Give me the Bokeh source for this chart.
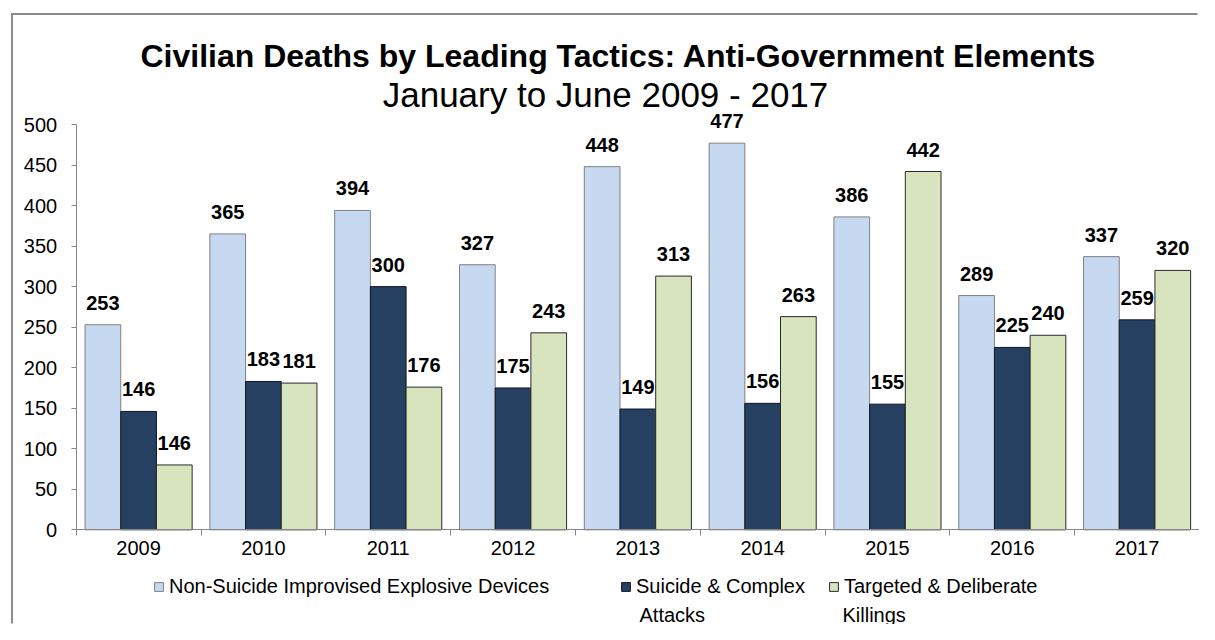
from bokeh.plotting import figure
from bokeh.models import (Range1d, FixedTicker, Legend, LegendItem, Label,
                          ColumnDataSource)
from bokeh.core.properties import value
from bokeh.embed import file_html
from bokeh.resources import INLINE

# ---------------- data ----------------
years = ["2009", "2010", "2011", "2012", "2013", "2014", "2015", "2016", "2017"]
non_suicide_ied = [253, 365, 394, 327, 448, 477, 386, 289, 337]
suicide_complex = [146, 183, 300, 175, 149, 156, 155, 225, 259]
targeted_killings = [80, 181, 176, 243, 313, 263, 442, 240, 320]
targeted_labels = ["146", "181", "176", "243", "313", "263", "442", "240", "320"]
y_ticks = [0, 50, 100, 150, 200, 250, 300, 350, 400, 450, 500]
series_names = ["Non-Suicide Improvised Explosive Devices",
                "Suicide & Complex",
                "Targeted & Deliberate"]
second_lines = ["", "Attacks", "Killings"]
title_text = "Civilian Deaths by Leading Tactics: Anti-Government Elements"
subtitle_text = "January to June 2009 - 2017"

# ---------------- layout (pixels) ----------------
W, H = 1199, 624
X0_PX, Y0_PX, Y500_PX = 75.7, 529.3, 124.0      # axis origin and top tick
ncat = len(years)
ux = (W - X0_PX) / ncat                          # px per category
uy = (Y0_PX - Y500_PX) / 500.0                   # px per unit
x_lo, x_hi = -X0_PX / ux, ncat
y_hi = Y0_PX / uy
y_lo = -(H - Y0_PX) / uy


def px_x(px):
    return (px - X0_PX) / ux


def px_y(py):
    return (Y0_PX - py) / uy


FONT = "Liberation Sans"
fills = ["#C6D9F1", "#254061", "#D7E4BD"]
lines = ["#808080", "#101820", "#2a2a2a"]
offsets = [-0.286, 0.0, 0.286]
bar_w = 0.286

p = figure(width=W, height=H, output_backend="svg", toolbar_location=None,
           x_range=Range1d(x_lo, x_hi), y_range=Range1d(y_lo, y_hi),
           min_border=0, min_border_left=0, min_border_right=0,
           min_border_top=0, min_border_bottom=0, title=None)
p.outline_line_color = None
p.background_fill_color = "white"
p.border_fill_color = "white"
p.xgrid.visible = False
p.ygrid.visible = False

# outer chart border (only its left and top edges fall inside the picture)
p.quad(left=[px_x(10.5), px_x(10.5)], right=[px_x(12.5), px_x(W - 2)],
       top=[px_y(12.5), px_y(12.5)], bottom=[px_y(H - 1), px_y(14.5)],
       fill_color="#8c8c8c", line_color=None)

centers = [i + 0.5 for i in range(ncat)]
series_vals = [non_suicide_ied, suicide_complex, targeted_killings]
series_labels = [[str(v) for v in non_suicide_ied],
                 [str(v) for v in suicide_complex],
                 targeted_labels]

renderers = []
for k in range(3):
    src = ColumnDataSource(dict(x=[c + offsets[k] for c in centers],
                                top=series_vals[k], lab=series_labels[k]))
    r = p.vbar(x="x", top="top", width=bar_w, source=src, fill_color=fills[k],
               line_color=lines[k], line_width=1)
    renderers.append(r)
    p.text(x="x", y="top", text="lab", source=src, text_align="center",
           text_baseline="alphabetic", y_offset=-22, text_font=value(FONT),
           text_font_style="bold", text_font_size="20px", text_color="black")

# y axis (fixed at x = 0, limited to 0..500)
ya = p.yaxis[0]
ya.fixed_location = 0
ya.bounds = (0, 500)
ya.ticker = FixedTicker(ticks=y_ticks)
ya.axis_line_color = "#868686"
ya.major_tick_line_color = "#868686"
ya.major_tick_out = 5
ya.major_tick_in = 0
ya.minor_tick_line_color = None
ya.major_label_text_font = FONT
ya.major_label_text_font_size = "20px"
ya.major_label_text_color = "black"
ya.major_label_standoff = 14

# x axis (fixed at y = 0)
xa = p.xaxis[0]
xa.fixed_location = 0
xa.bounds = (0, ncat)
xa.ticker = FixedTicker(ticks=centers, minor_ticks=list(range(ncat + 1)))
xa.major_label_overrides = {c: y for c, y in zip(centers, years)}
xa.axis_line_color = "#868686"
xa.major_tick_line_color = None
xa.major_tick_out = 0
xa.major_tick_in = 0
xa.minor_tick_line_color = "#868686"
xa.minor_tick_out = 6
xa.minor_tick_in = 0
xa.major_label_text_font = FONT
xa.major_label_text_font_size = "20px"
xa.major_label_text_color = "black"
xa.major_label_standoff = 5

# legend (one per item, placed individually; frame == whole canvas)
leg_x = [153, 620, 828]
row1_center = 587
for k in range(3):
    lg = Legend(items=[LegendItem(label=series_names[k], renderers=[renderers[k]])],
                location=(leg_x[k], H - row1_center - 11), orientation="horizontal",
                glyph_width=11, glyph_height=11, label_standoff=5,
                padding=0, margin=0, spacing=0, border_line_color=None,
                background_fill_alpha=0, label_text_font=FONT,
                label_text_font_size="20px", label_text_color="black")
    p.add_layout(lg, "center")
sec_x = [0, 639, 842]
for k in (1, 2):
    p.add_layout(Label(x=sec_x[k], y=H - 614, x_units="screen", y_units="screen",
                       text=second_lines[k], text_baseline="alphabetic",
                       text_font=FONT, text_font_size="20px", text_color="black"))

# titles
p.add_layout(Label(x=618, y=H - 55, x_units="screen", y_units="screen",
                   text=title_text, text_align="center", text_baseline="alphabetic",
                   text_font=FONT, text_font_style="bold", text_font_size="32px",
                   text_color="black"))
p.add_layout(Label(x=605, y=H - 94, x_units="screen", y_units="screen",
                   text=subtitle_text, text_align="center", text_baseline="alphabetic",
                   text_font=FONT, text_font_size="35px", text_color="black"))

open("out.html", "w").write(file_html(p, INLINE))
